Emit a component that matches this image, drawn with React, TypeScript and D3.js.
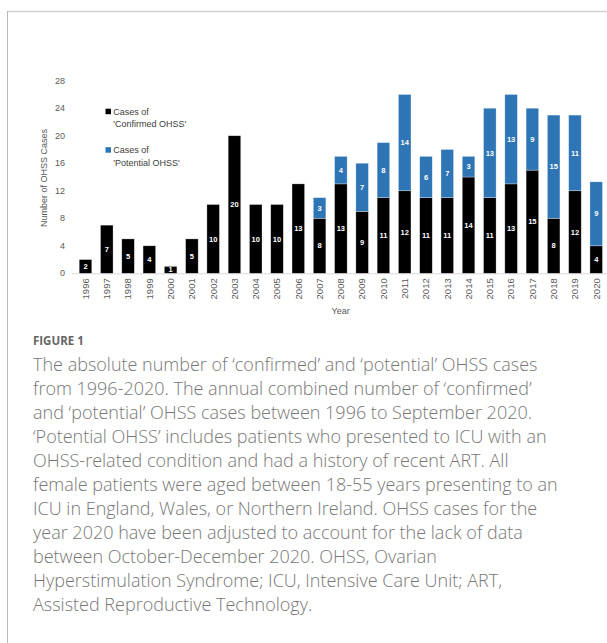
import React from "react";
import * as d3 from "d3";

const years = ["1996","1997","1998","1999","2000","2001","2002","2003","2004","2005","2006","2007","2008","2009","2010","2011","2012","2013","2014","2015","2016","2017","2018","2019","2020"];
const confirmed = [2,7,5,4,1,5,10,20,10,10,13,8,13,9,11,12,11,11,14,11,13,15,8,12,4];
const potential = [0,0,0,0,0,0,0,0,0,0,0,3,4,7,8,14,6,7,3,13,13,9,15,11,9.3];
const yTicks = [0,4,8,12,16,20,24,28];
const seriesNames = ["Cases of\n'Confirmed OHSS'", "Cases of\n'Potential OHSS'"];
const seriesColors = ["#000000", "#2E75B6"];
const yTitle = "Number of OHSS Cases";
const xTitle = "Year";
const figureLabel = "FIGURE 1";
const captionLines = [
  "The absolute number of \u2018confirmed\u2019 and \u2018potential\u2019 OHSS cases",
  "from 1996-2020. The annual combined number of \u2018confirmed\u2019",
  "and \u2018potential\u2019 OHSS cases between 1996 to September 2020.",
  "\u2018Potential OHSS\u2019 includes patients who presented to ICU with an",
  "OHSS-related condition and had a history of recent ART. All",
  "female patients were aged between 18-55 years presenting to an",
  "ICU in England, Wales, or Northern Ireland. OHSS cases for the",
  "year 2020 have been adjusted to account for the lack of data",
  "between October-December 2020. OHSS, Ovarian",
  "Hyperstimulation Syndrome; ICU, Intensive Care Unit; ART,",
  "Assisted Reproductive Technology.",
];

export default function App() {
  const W = 607, H = 643;
  const x = d3.scaleBand<string>().domain(years).range([74.86, 606.86]).paddingInner(0.41).paddingOuter(0.205);
  const y = d3.scaleLinear().domain([0, 28]).range([273.3, 80.7]);
  const fmt = d3.format(".0f");
  const stacked = d3.stack<number>().keys(["c", "p"]).value((i, k) => (k === "c" ? confirmed[i] : potential[i]))(d3.range(years.length));
  const font = "'Liberation Sans', Arial, sans-serif";
  const capFont = "'Open Sans', 'Noto Sans', sans-serif";

  return (
    <svg width={W} height={H} style={{ position: "absolute", left: 0, top: 0, background: "#fff" }}>
      <rect x={0} y={0} width={W} height={H} fill="#fff" />
      <line x1={7.5} x2={W} y1={11.5} y2={11.5} stroke="#d4d4d4" strokeWidth={1.5} />
      <line x1={7.5} x2={7.5} y1={11} y2={H} stroke="#b8b8b8" strokeWidth={1} />

      {/* baseline */}
      <line x1={72} x2={W} y1={y(0) + 0.5} y2={y(0) + 0.5} stroke="#d9d9d9" strokeWidth={1} />

      {/* y ticks */}
      {yTicks.map((t) => (
        <text key={t} x={65} y={y(t)} dy="0.35em" textAnchor="end" fontFamily={font} fontSize={9} fill="#595959">{t}</text>
      ))}
      <text transform={`translate(44,178) rotate(-90)`} textAnchor="middle" dy="0.35em" fontFamily={font} fontSize={9} fill="#595959">{yTitle}</text>

      {/* bars */}
      {stacked.map((layer, li) => (
        <g key={li}>
          {layer.map((seg, i) => {
            const v = seg[1] - seg[0];
            if (v <= 0) return null;
            const bx = x(years[i])!;
            const bw = x.bandwidth();
            const y0 = y(seg[0]), y1 = y(seg[1]);
            return (
              <g key={i}>
                <rect x={bx} y={y1} width={bw} height={y0 - y1} fill={seriesColors[li]} stroke="#ffffff" strokeOpacity={0.5} strokeWidth={0.6} />
                <text x={bx + bw / 2} y={(y0 + y1) / 2} dy="0.35em" textAnchor="middle" fontFamily={font} fontWeight="bold" fontSize={7.5} fill="#fff">{fmt(v)}</text>
              </g>
            );
          })}
        </g>
      ))}

      {/* x tick labels */}
      {years.map((yr) => (
        <text key={yr} transform={`translate(${x(yr)! + x.bandwidth() / 2},${y(0) + 5}) rotate(-90)`} textAnchor="end" dy="0.35em" fontFamily={font} fontSize={9.5} fill="#595959">{yr}</text>
      ))}
      <text x={340.7} y={310.7} dy="0.35em" textAnchor="middle" fontFamily={font} fontSize={9} fill="#595959">{xTitle}</text>

      {/* legend */}
      {seriesNames.map((name, i) => {
        const ly = 111.7 + i * 38.5;
        const parts = name.split("\n");
        return (
          <g key={i}>
            <rect x={105.5} y={ly - 3} width={5.5} height={5.5} fill={seriesColors[i]} />
            {parts.map((p, j) => (
              <text key={j} x={113.3} y={ly + j * 12.6} dy="0.35em" fontFamily={font} fontSize={9} fill="#404040">{p}</text>
            ))}
          </g>
        );
      })}

      {/* caption */}
      <text x={33} y={341} dy="0.35em" fontFamily={capFont} fontWeight="bold" fontSize={11.5} fill="#666">{figureLabel}</text>
      {captionLines.map((line, i) => (
        <text key={i} x={33} y={365 + i * 24} dy="0.35em" fontFamily={capFont} fontWeight={300} fontSize={18} fill="#777">{line}</text>
      ))}
    </svg>
  );
}
